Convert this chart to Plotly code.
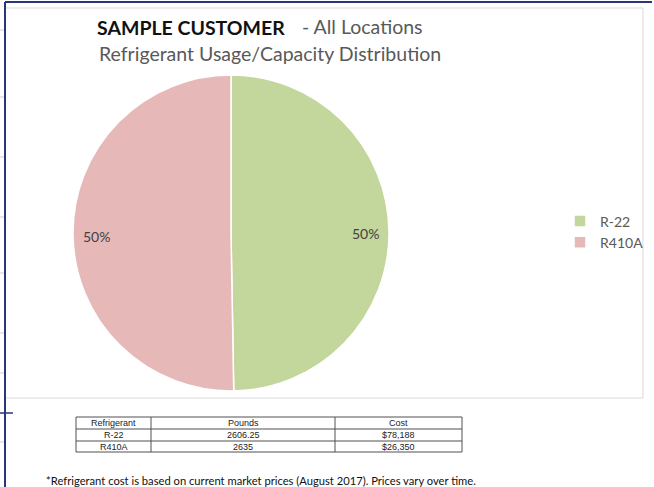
import math
import plotly.graph_objects as go

W, H = 654, 487

refrigerants = ["R-22", "R410A"]
pounds = [2606.25, 2635]
pounds_text = ["2606.25", "2635"]
cost_text = ["$78,188", "$26,350"]
table_header = ["Refrigerant", "Pounds", "Cost"]
colors = ["#c3d69b", "#e6b9b8"]

def px(x):
    return x / W

def py(y):
    return (H - y) / H

# pie geometry (pixels): centre and radius
CX, CY, R = 231, 233, 158

fig = go.Figure()

fig.add_trace(go.Pie(
    labels=refrigerants,
    values=pounds,
    sort=False,
    direction="clockwise",
    rotation=0,
    marker=dict(colors=colors, line=dict(color="white", width=1.5)),
    textinfo="none",
    domain=dict(x=[px(CX - R), px(CX + R)], y=[py(CY + R), py(CY - R)]),
    hoverinfo="label+value+percent",
    showlegend=True,
))

annotations = []
# percentage labels placed along each slice's bisector
total = sum(pounds)
start = 90.0
for v in pounds:
    frac = v / total
    mid = start - frac * 180.0
    start -= frac * 360.0
    ang = math.radians(mid)
    lx = CX + 0.85 * R * math.cos(ang)
    ly = CY - 0.85 * R * math.sin(ang) + 2
    annotations.append(dict(x=px(lx), y=py(ly), xref="paper", yref="paper",
                            xanchor="center", yanchor="middle", showarrow=False,
                            text=f"{round(frac * 100):d}%",
                            font=dict(family="Lato", size=14, color="#404040")))

shapes = []
# chart area light border
shapes.append(dict(type="rect", xref="paper", yref="paper", x0=px(5), x1=px(643), y0=py(398), y1=py(8),
                   line=dict(color="#d9d9d9", width=1), fillcolor="rgba(0,0,0,0)", layer="below"))
# faint spreadsheet grid ticks on the left
for yy in [30, 97, 157, 217, 273, 333, 373, 442]:
    shapes.append(dict(type="line", xref="paper", yref="paper", x0=0, x1=px(5), y0=py(yy), y1=py(yy),
                       line=dict(color="#cfcfcf", width=1)))
# navy frame lines
navy = "#2b367a"
shapes.append(dict(type="line", xref="paper", yref="paper", x0=px(5), x1=px(652), y0=py(2), y1=py(2),
                   line=dict(color=navy, width=2)))
shapes.append(dict(type="line", xref="paper", yref="paper", x0=px(5), x1=px(5), y0=0, y1=py(2),
                   line=dict(color=navy, width=2)))
shapes.append(dict(type="line", xref="paper", yref="paper", x0=0, x1=px(13), y0=py(413), y1=py(413),
                   line=dict(color=navy, width=1.5)))

# data table below the chart
col_edges = [76, 151, 335, 462]
row_edges = [417, 429, 441, 452]
tline = dict(color="#505050", width=1)
for xe in col_edges:
    shapes.append(dict(type="line", xref="paper", yref="paper", x0=px(xe), x1=px(xe),
                       y0=py(row_edges[-1]), y1=py(row_edges[0]), line=tline))
for ye in row_edges:
    shapes.append(dict(type="line", xref="paper", yref="paper", x0=px(col_edges[0]), x1=px(col_edges[-1]),
                       y0=py(ye), y1=py(ye), line=tline))
table_rows = [table_header] + [list(r) for r in zip(refrigerants, pounds_text, cost_text)]
tfont = dict(family="Liberation Sans Narrow, Arial Narrow, Liberation Sans", size=9, color="#222")
for ri, row in enumerate(table_rows):
    yc = (row_edges[ri] + row_edges[ri + 1]) / 2
    for ci, val in enumerate(row):
        xc = (col_edges[ci] + col_edges[ci + 1]) / 2
        annotations.append(dict(x=px(xc), y=py(yc), xref="paper", yref="paper",
                                xanchor="center", yanchor="middle", showarrow=False,
                                text=val, font=tfont))

annotations += [
    dict(x=px(95), y=py(28), xref="paper", yref="paper", xanchor="left", yanchor="middle",
         text="<b>SAMPLE CUSTOMER</b>", showarrow=False,
         font=dict(family="Lato", size=19.5, color="#111")),
    dict(x=px(300), y=py(27), xref="paper", yref="paper", xanchor="left", yanchor="middle",
         text="- All Locations", showarrow=False,
         font=dict(family="Lato", size=19.5, color="#595959")),
    dict(x=px(97), y=py(53), xref="paper", yref="paper", xanchor="left", yanchor="middle",
         text="Refrigerant Usage/Capacity Distribution", showarrow=False,
         font=dict(family="Lato", size=19.5, color="#595959")),
    dict(x=px(44), y=py(480), xref="paper", yref="paper", xanchor="left", yanchor="middle",
         text="*Refrigerant cost is based on current market prices (August 2017). Prices vary over time.",
         showarrow=False, font=dict(family="Lato", size=11.2, color="#111")),
]

fig.update_layout(
    width=W, height=H,
    margin=dict(l=0, r=0, t=0, b=0),
    paper_bgcolor="white",
    plot_bgcolor="white",
    shapes=shapes,
    annotations=annotations,
    legend=dict(x=px(560), y=py(232), xanchor="left", yanchor="middle",
                font=dict(family="Lato", size=14, color="#595959"),
                bgcolor="rgba(0,0,0,0)", itemwidth=30, tracegroupgap=0),
)

fig.write_html("out.html", config={"displayModeBar": False},
               post_script="document.body.style.margin='0';document.body.style.overflow='hidden';")
